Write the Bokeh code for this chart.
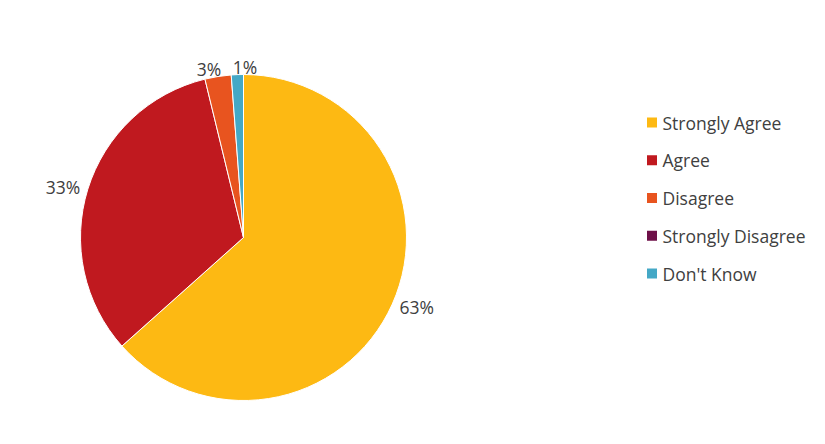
import math
from bokeh.plotting import figure
from bokeh.models import Range1d, ColumnDataSource
from bokeh.core.properties import value
from bokeh.embed import file_html
from bokeh.resources import INLINE

categories = ["Strongly Agree", "Agree", "Disagree", "Strongly Disagree", "Don't Know"]
shares = [63.4, 32.8, 2.6, 0.0, 1.2]
colors = ["#FDB913", "#C0191F", "#E8541F", "#6E1048", "#44A8C6"]

W, H = 809, 428
p = figure(width=W, height=H, output_backend="svg", toolbar_location=None,
           x_range=Range1d(0, W), y_range=Range1d(0, H), min_border=0)
p.axis.visible = False
p.grid.visible = False
p.outline_line_color = None
p.background_fill_color = "white"

cx, cy, r = 243, H - 237, 163
total = sum(shares)
starts, ends, mids, wcols, keep = [], [], [], [], []
acc = 0.0
for s, c in zip(shares, colors):
    a0 = math.pi / 2 - 2 * math.pi * acc / total
    acc += s
    a1 = math.pi / 2 - 2 * math.pi * acc / total
    if s > 0:
        starts.append(a0); ends.append(a1); mids.append((a0 + a1) / 2); wcols.append(c); keep.append(s)

src = ColumnDataSource(dict(start=starts, end=ends, color=wcols))
p.wedge(x=cx, y=cy, radius=r, start_angle="start", end_angle="end",
        direction="clock", fill_color="color", line_color="white", line_width=1,
        source=src)

# data labels
lx, ly, lt, la, lb = [], [], [], [], []
g = 8
for s, m in zip(keep, mids):
    ux, uy = math.cos(m), math.sin(m)
    lx.append(cx + (r + g) * ux)
    ly.append(cy + (r + g) * uy)
    lt.append(f"{round(s)}%")
    la.append("left" if ux > 0.3 else ("right" if ux < -0.3 else "center"))
    lb.append("alphabetic" if uy > 0.6 else ("top" if uy < -0.6 else "middle"))

# simple collision resolution for centered labels near each other
min_sep = 36
for i in range(len(lx)):
    for j in range(i + 1, len(lx)):
        if la[i] == la[j] == "center" and abs(ly[i] - ly[j]) < 20:
            d = lx[j] - lx[i]
            if abs(d) < min_sep:
                shift = (min_sep - abs(d)) / 2
                sgn = 1 if d >= 0 else -1
                lx[i] -= sgn * shift
                lx[j] += sgn * shift

p.text(x=lx, y=ly, text=lt, text_align=la, text_baseline=lb,
       text_font=value("Open Sans"), text_font_size="17.5px", text_color="#404040")

# legend
leg_x, leg_y0, leg_dy = 651.5, H - 122, 37.75
ys = [leg_y0 - i * leg_dy for i in range(len(categories))]
p.rect(x=[leg_x] * len(categories), y=ys, width=10, height=10, fill_color=colors, line_color=None)
p.text(x=[leg_x + 10.5] * len(categories), y=ys, text=categories, text_align="left",
       text_baseline="middle", text_font=value("Open Sans"), text_font_size="17.5px",
       text_color="#404040")

open("out.html", "w").write(file_html(p, INLINE))
